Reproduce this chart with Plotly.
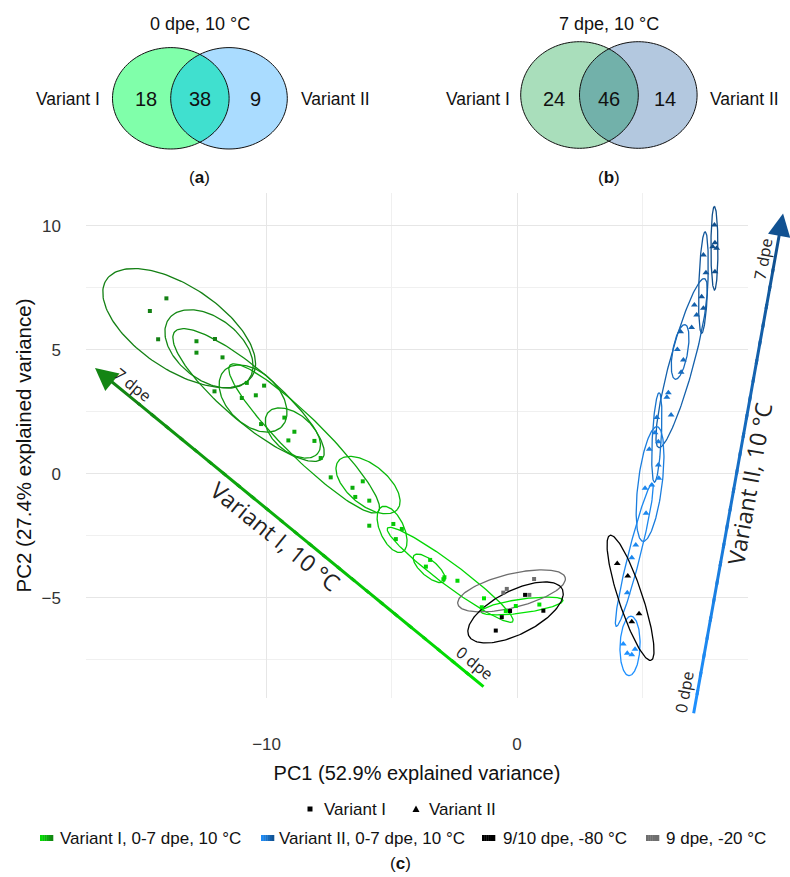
import numpy as np
import plotly.graph_objects as go

# ----------------------------- data -----------------------------
# Venn diagrams (numbers of detected compounds)
venn_titles = ["0 dpe, 10 °C", "7 dpe, 10 °C"]
venn_tags = ["a", "b"]
venn_set_names = ["Variant I", "Variant II"]
venn_a_counts = [18, 38, 9]      # only Variant I, shared, only Variant II
venn_b_counts = [24, 46, 14]

# PCA score plot
pc1_title = "PC1 (52.9% explained variance)"
pc2_title = "PC2 (27.4% explained variance)"
x_ticks = [-10, 0]
x_minor = [-5, 5]
y_ticks = [-5, 0, 5, 10]
y_minor = [-7.5, -2.5, 2.5, 7.5]

# Variant I, 0-7 dpe, 10 °C (squares)
v1_x = [-14.00, -14.66, -14.33, -12.06, -12.80, -12.80, -11.76, -12.08, -10.79, -10.10,
        -10.99, -10.43, -10.22, -9.29, -8.89, -9.13, -8.09, -7.84, -7.44, -6.57,
        -6.16, -6.46, -5.90, -5.90, -4.94, -4.60, -4.84, -3.47, -3.64, -2.90,
        -2.94, -2.38, -1.32, -1.41, -0.45, -0.05, 0.89]
v1_y = [7.08, 6.57, 5.43, 5.44, 5.35, 4.89, 4.70, 3.33, 3.67, 3.56,
        3.06, 3.17, 2.01, 2.27, 1.70, 1.35, 1.33, 0.64, -0.14, -0.56,
        -0.30, -0.93, -1.08, -2.09, -2.02, -2.22, -2.63, -3.47, -3.74, -4.17,
        -4.25, -4.31, -5.02, -5.38, -5.53, -5.33, -5.27]
v1_dpe = [7, 7, 7, 7, 6, 6, 6, 6, 5, 5,
          5, 5, 5, 4, 4, 4, 4, 4, 4, 4,
          3, 3, 3, 3, 2, 2, 2, 1, 1, 1,
          1, 1, 0, 0, 0, 0, 0]

# Variant II, 0-7 dpe, 10 °C (triangles)
v2_x = [7.88, 7.90, 7.81, 7.97, 7.90, 7.44, 7.54, 7.37, 7.44, 7.08,
        7.17, 6.97, 6.53, 6.40, 6.64, 6.55, 6.04, 5.98, 6.15, 5.58,
        5.51, 5.64, 5.28, 5.64, 5.66, 5.38, 5.11, 5.15, 4.74, 4.58,
        4.40, 4.24, 4.40, 4.58, 4.71]
v2_y = [10.04, 9.32, 9.16, 9.10, 8.15, 8.83, 8.11, 7.15, 6.68, 6.81,
        6.41, 5.90, 5.73, 5.02, 4.59, 4.10, 3.27, 3.09, 2.38, 2.27,
        1.66, 1.30, 0.99, 0.36, -0.18, -0.45, -0.58, -1.59, -2.87, -3.38,
        -4.79, -6.86, -7.23, -7.30, -7.07]
v2_dpe = [7, 7, 7, 7, 7, 6, 6, 6, 6, 5,
          5, 5, 5, 4, 4, 4, 3, 3, 3, 3,
          2, 2, 2, 2, 1, 1, 1, 1, 1, 1,
          1, 0, 0, 0, 0]

# 9/10 dpe, -80 °C (black) and 9 dpe, -20 °C (grey)
m80_sq_x = [0.32, -0.28, -0.61, 1.05, -0.85]
m80_sq_y = [-4.88, -5.53, -5.78, -5.52, -6.32]
m80_tr_x = [4.00, 4.42, 4.87, 4.58]
m80_tr_y = [-3.61, -4.12, -5.64, -5.96]
m20_x = [-0.41, -0.55, 0.49, 0.68]
m20_y = [-4.64, -4.79, -4.88, -4.24]

# confidence ellipses: centre, semi-axes, rotation (deg), dpe
ell1_cx = [-13.49, -12.30, -10.72, -10.54, -8.95, -8.50, -5.95, -4.99, -3.51, -2.67, 0.20]
ell1_cy = [5.88, 5.04, 3.18, 3.04, 1.65, 1.43, -0.45, -2.24, -3.81, -4.07, -5.33]
ell1_a = [3.50, 2.01, 3.90, 1.61, 1.29, 4.18, 1.53, 1.00, 0.80, 3.13, 1.65]
ell1_b = [1.68, 1.25, 1.05, 1.04, 0.76, 0.80, 0.80, 0.48, 0.32, 0.44, 0.28]
ell1_ang = [-34, -38, -41, -45, -40, -45, -40, -66, -41, -37, 8]
ell1_dpe = [7, 6.5, 6, 5.5, 5, 4.5, 3, 2, 1.5, 1, 0]

ell2_cx = [7.88, 7.44, 6.57, 6.51, 5.58, 5.31, 4.68, 4.51]
ell2_cy = [9.10, 7.72, 4.47, 4.92, 1.47, -0.41, -3.27, -6.94]
ell2_a = [1.69, 2.05, 3.53, 1.12, 1.81, 2.33, 2.97, 1.20]
ell2_b = [0.14, 0.18, 0.48, 0.30, 0.18, 0.48, 0.24, 0.40]
ell2_ang = [90, 88, 75, 80, 87, 83, 76, 88]
ell2_dpe = [7, 6, 5, 4, 3, 2, 1, 0]

ell_m80sq = [-0.06, -5.59, 2.09, 0.88, 27]
ell_m80tr = [4.53, -5.00, 2.65, 0.48, -72]
ell_m20 = [-0.22, -4.72, 2.21, 0.68, 14]

# trend arrows (tail -> head), in PC units
arrow1 = [-1.28, -8.63, -16.85, 4.27]
arrow2 = [7.04, -9.72, 10.62, 10.50]

legend_items = ["Variant I, 0-7 dpe, 10 °C", "Variant II, 0-7 dpe, 10 °C",
                "9/10 dpe, -80 °C", "9 dpe, -20 °C"]

# ----------------------------- styling -----------------------------
W, H = 790, 877
PL, PR, PT, PB = 86, 748, 193, 698
X_RANGE = [-17.21, 9.22]
Y_RANGE = [-9.04, 11.33]
SX = (PR - PL) / (X_RANGE[1] - X_RANGE[0])
SY = (PB - PT) / (Y_RANGE[1] - Y_RANGE[0])

G0, G7 = (0, 228, 0), (20, 128, 20)
B0, B7 = (30, 144, 255), (16, 78, 139)
AX_FONT = "Liberation Sans, Arial, sans-serif"
ANN_FONT = "Open Sans, Liberation Sans, sans-serif"


def lerp(c0, c1, t):
    t = max(0.0, min(1.0, t))
    return "rgb(%d,%d,%d)" % tuple(round(a + (b - a) * t) for a, b in zip(c0, c1))


def pxp(px, py):
    return (px - PL) / (PR - PL), (PB - py) / (PB - PT)


def d2p(x, y):
    return ((x - X_RANGE[0]) / (X_RANGE[1] - X_RANGE[0]),
            (y - Y_RANGE[0]) / (Y_RANGE[1] - Y_RANGE[0]))


def ellipse_pts(cx, cy, a, b, ang, n=160):
    t = np.linspace(0, 2 * np.pi, n)
    th = np.radians(ang)
    x = cx + a * np.cos(t) * np.cos(th) - b * np.sin(t) * np.sin(th)
    y = cy + a * np.cos(t) * np.sin(th) + b * np.sin(t) * np.cos(th)
    return x, y


fig = go.Figure()


def add_ellipse(cx, cy, a, b, ang, color, width=1.3):
    x, y = ellipse_pts(cx, cy, a, b, ang)
    fig.add_trace(go.Scatter(x=x, y=y, mode="lines", line=dict(color=color, width=width),
                             hoverinfo="skip", showlegend=False))


for i in range(len(ell1_cx)):
    add_ellipse(ell1_cx[i], ell1_cy[i], ell1_a[i], ell1_b[i], ell1_ang[i], lerp(G0, G7, ell1_dpe[i] / 7))
for i in range(len(ell2_cx)):
    add_ellipse(ell2_cx[i], ell2_cy[i], ell2_a[i], ell2_b[i], ell2_ang[i], lerp(B0, B7, ell2_dpe[i] / 7))
add_ellipse(*ell_m20, "rgb(110,110,110)")
add_ellipse(*ell_m80sq, "black")
add_ellipse(*ell_m80tr, "black")

fig.add_trace(go.Scatter(x=v1_x, y=v1_y, mode="markers", showlegend=False,
                         marker=dict(symbol="square", size=4, color=[lerp(G0, G7, d / 7) for d in v1_dpe])))
fig.add_trace(go.Scatter(x=v2_x, y=v2_y, mode="markers", showlegend=False,
                         marker=dict(symbol="triangle-up", size=6, color=[lerp(B0, B7, d / 7) for d in v2_dpe])))
fig.add_trace(go.Scatter(x=m20_x, y=m20_y, mode="markers", showlegend=False,
                         marker=dict(symbol="square", size=4, color="rgb(110,110,110)")))
fig.add_trace(go.Scatter(x=m80_sq_x, y=m80_sq_y, mode="markers", showlegend=False,
                         marker=dict(symbol="square", size=4, color="black")))
fig.add_trace(go.Scatter(x=m80_tr_x, y=m80_tr_y, mode="markers", showlegend=False,
                         marker=dict(symbol="triangle-up", size=6, color="black")))

annotations = []
shapes = []


def seg(x0, y0, x1, y1, color, head):
    p1x, p1y = d2p(x1, y1)
    annotations.append(dict(
        x=p1x, y=p1y, xref="paper", yref="paper",
        ax=(x0 - x1) * SX, ay=-(y0 - y1) * SY, axref="pixel", ayref="pixel",
        text="", showarrow=True, arrowhead=2 if head else 0, arrowsize=1.5, arrowwidth=3,
        arrowcolor=color, standoff=0, startstandoff=0))


def grad_arrow(x0, y0, x1, y1, c0, c1, n=24, t_head=0.88):
    # gradient body drawn as short annotation segments (paper anchored so
    # that parts outside the axis ranges stay visible) plus one head segment
    P = lambda t: (x0 + (x1 - x0) * t, y0 + (y1 - y0) * t)
    for i in range(n):
        t0 = t_head * i / n
        t1 = min(t_head + 0.01, t_head * (i + 1.35) / n)
        seg(*P(t0), *P(t1), lerp(c0, c1, t_head * (i + 0.5) / n), False)
    seg(*P(t_head), *P(1.0), lerp(c0, c1, 0.95), True)


grad_arrow(*arrow1, G0, G7)
grad_arrow(*arrow2, B0, B7)


def data_text(x, y, text, angle, size):
    px, py = d2p(x, y)
    annotations.append(dict(x=px, y=py, xref="paper", yref="paper", text=text, showarrow=False,
                            xanchor="center", yanchor="middle",
                            textangle=angle, font=dict(family=ANN_FONT, size=size, color="#222")))


data_text(-15.33, 3.59, "7 dpe", 39, 16)
data_text(-9.64, -2.49, "Variant I, 10 °C", 39, 23)
data_text(-1.68, -7.62, "0 dpe", 39, 16)
data_text(9.82, 8.67, "7 dpe", -80, 16)
data_text(9.28, -0.42, "Variant II, 10 °C", -80, 23)
data_text(6.67, -8.79, "0 dpe", -80, 16)


def paper_text(px, py, text, size, anchor="center", family=AX_FONT, color="#111"):
    x, y = pxp(px, py)
    annotations.append(dict(x=x, y=y, xref="paper", yref="paper", text=text, showarrow=False,
                            xanchor=anchor, yanchor="middle",
                            font=dict(family=family, size=size, color=color)))


def poly_path(pts):
    return "M " + " L ".join("%.5f,%.5f" % pxp(px, py) for px, py in pts) + " Z"


def ell_px(cx, cy, rx, ry, n=120):
    t = np.linspace(0, 2 * np.pi, n, endpoint=False)
    return list(zip(cx + rx * np.cos(t), cy - ry * np.sin(t)))


def lens_px(c1, c2, cy, rx, ry, n=60):
    t0 = np.arccos((c2 - c1) / (2 * rx))
    ta = np.linspace(-t0, t0, n)
    tb = np.linspace(np.pi - t0, np.pi + t0, n)
    pts = list(zip(c1 + rx * np.cos(ta), cy - ry * np.sin(ta)))
    pts += list(zip(c2 + rx * np.cos(tb), cy - ry * np.sin(tb)))
    return pts


# Venn geometry (pixel layout)
venn_geo = [
    dict(c1=170.8, c2=229.0, cy=98.3, rx=58.3, ry=50.7, names=(67.5, 335),
         cols=("#80FFAA", "#AADCFF", "#40E0CF")),
    dict(c1=579.5, c2=638.3, cy=95.0, rx=58.8, ry=53.3, names=(477.5, 744),
         cols=("#A9DEBB", "#B3C8DF", "#72B1AA")),
]
venn_counts = [venn_a_counts, venn_b_counts]
for k, g in enumerate(venn_geo):
    shapes.append(dict(type="path", xref="paper", yref="paper", path=poly_path(ell_px(g["c1"], g["cy"], g["rx"], g["ry"])),
                       fillcolor=g["cols"][0], line=dict(width=0), layer="above"))
    shapes.append(dict(type="path", xref="paper", yref="paper", path=poly_path(ell_px(g["c2"], g["cy"], g["rx"], g["ry"])),
                       fillcolor=g["cols"][1], line=dict(width=0), layer="above"))
    shapes.append(dict(type="path", xref="paper", yref="paper", path=poly_path(lens_px(g["c1"], g["c2"], g["cy"], g["rx"], g["ry"])),
                       fillcolor=g["cols"][2], line=dict(width=0), layer="above"))
    for c in (g["c1"], g["c2"]):
        shapes.append(dict(type="path", xref="paper", yref="paper", path=poly_path(ell_px(c, g["cy"], g["rx"], g["ry"])),
                           fillcolor="rgba(0,0,0,0)", line=dict(width=1, color="#111"), layer="above"))
    mid = (g["c1"] + g["c2"]) / 2
    paper_text(mid, 24, venn_titles[k], 18)
    paper_text(g["names"][0], 99, venn_set_names[0], 17.5)
    paper_text(g["names"][1], 99, venn_set_names[1], 17.5)
    cnt = venn_counts[k]
    paper_text(g["c1"] - g["rx"] * 0.43, 99, str(cnt[0]), 20)
    paper_text(mid, 99, str(cnt[1]), 20)
    paper_text(g["c2"] + g["rx"] * 0.45, 99, str(cnt[2]), 20)
    paper_text(mid, 177, "(<b>%s</b>)" % venn_tags[k], 17)

# legend rows
LEG_FONT = "Liberation Sans, Arial, sans-serif"
x0, y0 = pxp(307.5, 811.5)
x1, y1 = pxp(312.5, 806.5)
shapes.append(dict(type="rect", xref="paper", yref="paper", x0=x0, y0=y0, x1=x1, y1=y1,
                   fillcolor="black", line=dict(width=0)))
shapes.append(dict(type="path", xref="paper", yref="paper",
                   path=poly_path([(412.5, 812), (419.5, 812), (416, 805.5)]),
                   fillcolor="black", line=dict(width=0)))
paper_text(322, 809, "Variant I", 17, "left", LEG_FONT)
paper_text(427, 809, "Variant II", 17, "left", LEG_FONT)

sw_left = [40, 261, 482, 646]
sw_text = [58, 277, 501, 664]
sw_cols = [(G0, G7), (B0, B7), ((0, 0, 0), (0, 0, 0)), ((110, 110, 110), (110, 110, 110))]
for i in range(4):
    nseg = 6
    for s in range(nseg):
        xa, ya = pxp(sw_left[i] + 13 * s / nseg, 841)
        xb, yb = pxp(sw_left[i] + 13 * (s + 1) / nseg + 0.3, 835)
        shapes.append(dict(type="rect", xref="paper", yref="paper", x0=xa, y0=ya, x1=xb, y1=yb,
                           fillcolor=lerp(sw_cols[i][0], sw_cols[i][1], (s + 0.5) / nseg), line=dict(width=0)))
    paper_text(sw_text[i], 838, legend_items[i], 17, "left", LEG_FONT)

paper_text(400, 863, "(<b>c</b>)", 17)

fig.update_layout(
    width=W, height=H,
    margin=dict(l=PL, r=W - PR, t=PT, b=H - PB, autoexpand=False),
    paper_bgcolor="white", plot_bgcolor="white",
    showlegend=False, hovermode=False,
    annotations=annotations, shapes=shapes,
    font=dict(family=AX_FONT, color="#222"),
)
fig.update_xaxes(range=X_RANGE, tickvals=x_ticks, showgrid=True, gridcolor="#E6E6E6", gridwidth=1,
                 minor=dict(tickvals=x_minor, showgrid=True, gridcolor="#F0F0F0", gridwidth=1),
                 zeroline=False, showline=False, ticks="", ticklabelstandoff=34,
                 tickfont=dict(size=17, color="#333"),
                 title=dict(text=pc1_title, font=dict(size=20, color="#111"), standoff=12))
fig.update_yaxes(range=Y_RANGE, tickvals=y_ticks, showgrid=True, gridcolor="#E6E6E6", gridwidth=1,
                 minor=dict(tickvals=y_minor, showgrid=True, gridcolor="#F0F0F0", gridwidth=1),
                 zeroline=False, showline=False, ticks="", ticklabelstandoff=24,
                 tickfont=dict(size=17, color="#333"),
                 title=dict(text=pc2_title, font=dict(size=20.5, color="#111"), standoff=4))

fig.write_html("out.html", config={"displayModeBar": False, "staticPlot": True},
               post_script="document.body.style.margin='0px';document.body.style.overflow='hidden';")
